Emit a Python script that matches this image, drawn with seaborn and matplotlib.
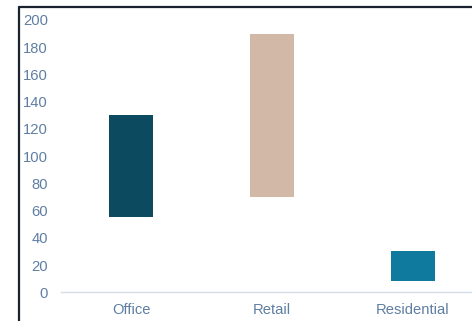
import matplotlib
matplotlib.use("Agg")
import matplotlib.pyplot as plt
from matplotlib.lines import Line2D
import seaborn as sns
import pandas as pd

categories = ["Office", "Retail", "Residential"]
low_values = [55, 70, 8]
high_values = [130, 190, 30]
colors = ["#0c4a60", "#d2b8a6", "#0f7a9d"]
y_ticks = [0, 20, 40, 60, 80, 100, 120, 140, 160, 180, 200]

sns.set_theme(style="white")
plt.rcParams["font.family"] = ["Liberation Sans", "DejaVu Sans"]

df = pd.DataFrame({
    "category": categories,
    "low": low_values,
    "high": high_values,
})
df["span"] = df["high"] - df["low"]

fig = plt.figure(figsize=(4.72, 3.21), dpi=100)
ax = fig.add_axes([0.1282, 0.0894, 0.8962, 0.8483])

sns.barplot(data=df, x="category", y="span", hue="category",
            palette=dict(zip(categories, colors)), legend=False,
            width=0.31, linewidth=0, saturation=1, ax=ax)
for patch, low in zip(ax.patches, df["low"]):
    patch.set_y(low)

ax.set_ylim(0, 200)
ax.set_xlim(-0.5, 2.5)
ax.set_yticks(y_ticks)
ax.set_xlabel("")
ax.set_ylabel("")
for s in ["top", "right", "left"]:
    ax.spines[s].set_visible(False)
ax.spines["bottom"].set_color("#d3deea")
ax.spines["bottom"].set_linewidth(1.0)
ax.tick_params(axis="both", length=0, labelsize=10.6, colors="#5f7ea3")
ax.tick_params(axis="y", pad=9)
ax.tick_params(axis="x", pad=7.5)

# outer frame (left and top edges)
fig.add_artist(Line2D([18.5 / 472, 18.5 / 472], [0, 1 - 6.5 / 321],
                      transform=fig.transFigure, color="#1a2230", lw=1.6))
fig.add_artist(Line2D([18.5 / 472, 1], [1 - 6.8 / 321, 1 - 6.8 / 321],
                      transform=fig.transFigure, color="#1a2230", lw=1.6))

fig.savefig("out.png", dpi=100)
